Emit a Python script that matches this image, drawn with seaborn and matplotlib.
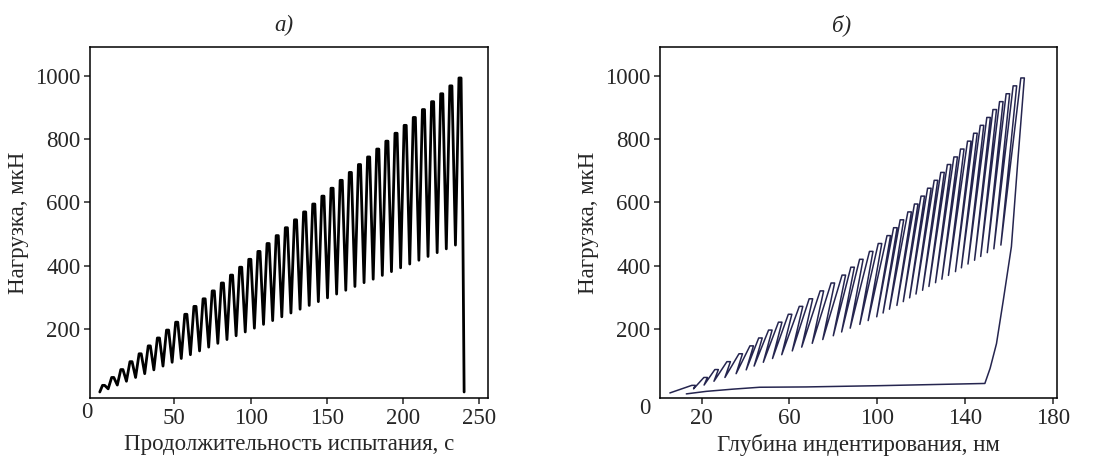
import pandas as pd
import seaborn as sns
import matplotlib.pyplot as plt

# cyclic nanoindentation test: 40 load/unload cycles
# peak load of every cycle, uN
peak_load = [21, 46, 71, 96, 121, 146, 171, 196, 221, 246,
             271, 295, 320, 345, 370, 395, 420, 445, 470, 495,
             520, 545, 570, 595, 620, 645, 670, 695, 720, 744,
             769, 794, 819, 844, 869, 894, 919, 944, 969, 994]
# partial unloading minimum after each peak (not after the last one), uN
valley_load = [10, 22, 34, 46, 58, 70, 82, 94, 106, 118,
               130, 142, 154, 166, 178, 190, 202, 214, 226, 238,
               250, 262, 274, 286, 298, 310, 322, 334, 346, 357,
               369, 381, 393, 405, 417, 429, 441, 453, 465]

# --- a) load vs time
peak_time = [3.5, 9.5, 15.5, 21.5, 27.5, 33.5, 39.5, 45.5, 51.5, 57.5,
             63.5, 69.5, 75.5, 81.5, 87.5, 93.5, 99.5, 105.5, 111.5, 117.5,
             123.5, 129.5, 135.5, 141.5, 147.5, 153.5, 159.5, 165.5, 171.5, 177.5,
             183.5, 189.5, 195.5, 201.5, 207.5, 213.5, 219.5, 225.5, 231.5, 237.5]
valley_time = [6.5, 12.5, 18.5, 24.5, 30.5, 36.5, 42.5, 48.5, 54.5, 60.5,
               66.5, 72.5, 78.5, 84.5, 90.5, 96.5, 102.5, 108.5, 114.5, 120.5,
               126.5, 132.5, 138.5, 144.5, 150.5, 156.5, 162.5, 168.5, 174.5, 180.5,
               186.5, 192.5, 198.5, 204.5, 210.5, 216.5, 222.5, 228.5, 234.5]
hold_s = 1.4
start_time, start_load = 1.0, 0
final_time = [239.3, 240.2]
final_load = [560, 0]

# --- b) load vs depth
peak_depth = [15.5, 21, 26, 31.5, 37, 42, 46, 50.5, 55, 59.5,
              64.5, 69, 74, 79, 84, 88, 92, 96.5, 100.5, 104.5,
              107.5, 110.5, 114, 117, 120, 123, 126, 129, 132, 135,
              138, 141.2, 144, 147, 150, 152.8, 155.8, 158.8, 162, 165.5]
valley_depth = [16.3, 21.1, 25.6, 30.6, 35.7, 40.3, 43.9, 48.1, 52.3, 56.5,
                61.3, 65.6, 70.4, 75.2, 80.0, 83.8, 87.7, 92.1, 95.9, 99.8,
                102.7, 105.6, 109.0, 111.9, 114.8, 117.7, 120.7, 123.6, 126.6, 129.5,
                132.5, 135.7, 138.4, 141.4, 144.4, 147.2, 150.2, 153.2, 156.4]
creep_nm = 1.6
start_depth = 5.5
unload_depth = [164.0, 161.2, 157.5, 154.4, 151.5, 149.1]
unload_load = [720, 460, 290, 153, 75, 27]
drift_depth = [101, 67.6, 46.4, 34.2, 22.1, 13]
drift_load = [20, 16, 15, 9, 2, -6]

# build the polylines
t, f1 = [start_time], [start_load]
h, f2 = [start_depth], [-3]
for k in range(len(peak_load)):
    t += [peak_time[k] - hold_s / 2, peak_time[k] + hold_s / 2]
    f1 += [peak_load[k], peak_load[k]]
    h += [peak_depth[k], peak_depth[k] + creep_nm]
    f2 += [peak_load[k], peak_load[k]]
    if k < len(valley_load):
        t.append(valley_time[k])
        f1.append(valley_load[k])
        h.append(valley_depth[k])
        f2.append(valley_load[k])
t += final_time
f1 += final_load
h += unload_depth + drift_depth
f2 += unload_load + drift_load

df_a = pd.DataFrame({'time': t, 'load': f1})
df_b = pd.DataFrame({'depth': h, 'load': f2})

sns.set_style('ticks')
plt.rcParams['font.family'] = ['Liberation Serif', 'DejaVu Serif']
plt.rcParams['axes.linewidth'] = 1.1

fig = plt.figure(figsize=(10.94, 4.63), dpi=100)
ax1 = fig.add_axes([0.0823, 0.1404, 0.3638, 0.7581])
ax2 = fig.add_axes([0.6033, 0.1404, 0.3629, 0.7581])

sns.lineplot(data=df_a, x='time', y='load', sort=False, estimator=None,
             color='black', linewidth=2.0, ax=ax1)
sns.lineplot(data=df_b, x='depth', y='load', sort=False, estimator=None,
             color='#25254f', linewidth=1.1, ax=ax2)

fs = 16.5
ax1.set_xlim(-5.4, 255.9)
ax1.set_xticks([50, 100, 150, 200, 250])
ax2.set_xlim(1.0, 182)
ax2.set_xticks([20, 60, 100, 140, 180])
for ax in (ax1, ax2):
    ax.set_ylim(-19, 1092)
    ax.set_yticks([200, 400, 600, 800, 1000])
    ax.tick_params(direction='out', length=4, width=1.1, labelsize=fs, pad=3)
    for s in ax.spines.values():
        s.set_visible(True)
        s.set_color('black')
    ax.set_ylabel('Нагрузка, мкН', fontsize=fs, labelpad=4)
ax1.set_xlabel('Продолжительность испытания, с', fontsize=fs, labelpad=4)
ax2.set_xlabel('Глубина индентирования, нм', fontsize=fs, labelpad=4)

# lone zero labels at the corners
ax1.text(87 / 1094, 1 - 412 / 463, '0', transform=fig.transFigure,
         fontsize=fs, ha='center', va='center')
ax2.text(645 / 1094, 1 - 408 / 463, '0', transform=fig.transFigure,
         fontsize=fs, ha='center', va='center')

fig.text(284 / 1094, 1 - 25 / 463, 'а)', fontsize=fs, style='italic',
         ha='center', va='center')
fig.text(842 / 1094, 1 - 25 / 463, 'б)', fontsize=fs, style='italic',
         ha='center', va='center')

fig.savefig('out.png', dpi=100)
